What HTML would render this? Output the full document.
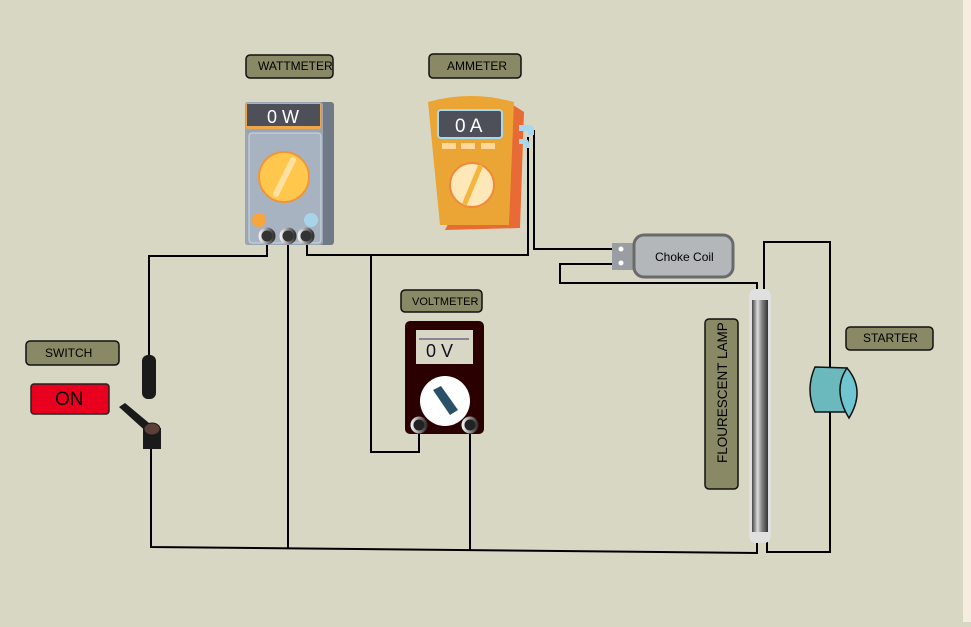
<!DOCTYPE html>
<html><head><style>
body{margin:0;width:971px;height:622px;overflow:hidden;background:#d8d7c3;font-family:"Liberation Sans",sans-serif}
</style></head><body>
<svg width="971" height="622" xmlns="http://www.w3.org/2000/svg" font-family="Liberation Sans, sans-serif">
<defs>
<linearGradient id="tube" x1="0" x2="1"><stop offset="0" stop-color="#444"/><stop offset="0.35" stop-color="#ddd"/><stop offset="0.6" stop-color="#888"/><stop offset="1" stop-color="#333"/></linearGradient>
<linearGradient id="term" x1="0" x2="1"><stop offset="0" stop-color="#eee"/><stop offset="1" stop-color="#333"/></linearGradient>
</defs>
<rect x="963" y="0" width="8" height="622" fill="#f5ede0"/>
<g fill="none" stroke="#000" stroke-width="2">
<polyline points="267,243 267,256 149,256 149,358"/>
<polyline points="151,448 151,547 757,553 757,538"/>
<line x1="288" y1="243" x2="288" y2="548"/>
<polyline points="307,243 307,255 528,255 528,137"/>
<polyline points="371,255 371,452 419,452 419,425"/>
<polyline points="534,130 534,249 620,249"/>
<polyline points="620,264 560,264 560,283 757,283 757,292"/>
<polyline points="764,292 764,242 830,242 830,367"/>
<polyline points="830,410 830,552 767,552 767,538"/>
<line x1="470" y1="425" x2="470" y2="550"/>
</g>
<g stroke="#111" stroke-width="1.5" fill="#8a8966">
<rect x="246" y="55" width="87" height="23" rx="4"/>
<rect x="429" y="54" width="92" height="24" rx="4"/>
<rect x="401" y="290" width="81" height="22" rx="4"/>
<rect x="26" y="341" width="93" height="24" rx="4"/>
<rect x="846" y="327" width="87" height="23" rx="4"/>
<rect x="705" y="319" width="33" height="170" rx="4"/>
</g>
<g font-size="12" fill="#000">
<text x="258" y="70">WATTMETER</text>
<text x="447" y="70">AMMETER</text>
<text x="412" y="305" font-size="11">VOLTMETER</text>
<text x="45" y="357">SWITCH</text>
<text x="863" y="342">STARTER</text>
<text transform="translate(727,463) rotate(-90)" font-size="13.5">FLOURESCENT LAMP</text>
</g>
<rect x="31" y="384" width="78" height="30" rx="3" fill="#e8001e" stroke="#222" stroke-width="1.5"/>
<text x="55" y="405" font-size="19" fill="#000">ON</text>
<rect x="142" y="355" width="14" height="44" rx="6" fill="#1a1a1a"/>
<path d="M119,407 L125,403 L155,428 L150,435 Z" fill="#1a1a1a"/>
<rect x="143" y="428" width="18" height="21" fill="#1a1a1a"/>
<ellipse cx="152" cy="429" rx="8" ry="6" fill="#5a4038" stroke="#1a1a1a"/>
<rect x="245" y="102" width="89" height="143" rx="3" fill="#6f7a86"/>
<rect x="245" y="102" width="78" height="143" rx="3" fill="#9aa6b4"/>
<rect x="246" y="103" width="75" height="26" rx="2" fill="#f0a64a"/>
<rect x="247" y="104" width="73" height="22" fill="#4d5058"/>
<text x="267" y="123" font-size="18" fill="#fff">0 W</text>
<rect x="249" y="133" width="72" height="110" rx="3" fill="#a7b3c0" stroke="#d0d8e0"/>
<circle cx="284" cy="177" r="25" fill="#ffc84c" stroke="#f0953a" stroke-width="2"/>
<line x1="293" y1="160" x2="276" y2="194" stroke="#ffe0a0" stroke-width="6" stroke-linecap="round"/>
<circle cx="259" cy="220" r="7" fill="#f7a63a"/>
<circle cx="311" cy="220" r="7" fill="#a8d4ea"/>
<circle cx="267" cy="236" r="7" fill="#333" stroke="url(#term)" stroke-width="3"/>
<circle cx="288" cy="236" r="7" fill="#333" stroke="url(#term)" stroke-width="3"/>
<circle cx="306" cy="236" r="7" fill="#333" stroke="url(#term)" stroke-width="3"/>
<path d="M510,103 L524,112 L520,228 L445,230 Z" fill="#e86a34"/>
<path d="M428,102 Q470,90 514,102 L509,225 L440,225 Z" fill="#eaa535"/>
<rect x="438" y="110" width="64" height="28" rx="3" fill="#4d5058" stroke="#a8d8ee" stroke-width="2"/>
<text x="455" y="132" font-size="19" fill="#fff">0 A</text>
<rect x="442" y="143" width="14" height="6" fill="#ffd89a"/><rect x="461" y="143" width="14" height="6" fill="#ffd89a"/><rect x="481" y="143" width="14" height="6" fill="#ffd89a"/>
<circle cx="472" cy="185" r="22" fill="#ffe8b8" stroke="#f08a3a" stroke-width="2"/>
<line x1="480" y1="167" x2="465" y2="203" stroke="#f6b63e" stroke-width="5" stroke-linecap="round"/>
<path d="M519,125 h10 q5,0 5,6 v4 h-6 v-4 h-9 Z" fill="#a8d8ee"/>
<path d="M519,139 h6 q4,0 4,5 v4 h-5 v-4 h-5 Z" fill="#a8d8ee"/>
<rect x="405" y="321" width="79" height="113" rx="5" fill="#2a0000"/>
<rect x="416" y="330" width="57" height="34" fill="#d8d6c4"/>
<line x1="419" y1="339" x2="469" y2="339" stroke="#336" stroke-width="1"/>
<text x="426" y="357" font-size="18" fill="#112">0 V</text>
<circle cx="445" cy="401" r="25" fill="#fff"/>
<path d="M433,390 L441,386 L458,410 L450,415 Z" fill="#2a5068"/>
<circle cx="419" cy="425" r="7" fill="#222" stroke="url(#term)" stroke-width="3"/>
<circle cx="470" cy="425" r="7" fill="#222" stroke="url(#term)" stroke-width="3"/>
<rect x="612" y="243" width="24" height="27" fill="#9a9ea2"/>
<rect x="634" y="235" width="99" height="42" rx="10" fill="#b4b7ba" stroke="#6a6a6a" stroke-width="3"/>
<text x="655" y="261" font-size="12" fill="#000">Choke Coil</text>
<circle cx="621" cy="249" r="2.5" fill="#fff"/><circle cx="621" cy="263" r="2.5" fill="#fff"/>
<rect x="749" y="289" width="22" height="254" rx="7" fill="#e0e0e0"/>
<rect x="752" y="300" width="16" height="232" fill="url(#tube)"/>
<path d="M815,367 L847,368 L847,412 L815,412 Q805,390 815,367 Z" fill="#6bb8bd" stroke="#111" stroke-width="1.5"/>
<path d="M847,368 Q866,390 849,418 Q832,390 847,368 Z" fill="#6fc6d0" stroke="#111" stroke-width="1.5"/>
</svg>
</body></html>
